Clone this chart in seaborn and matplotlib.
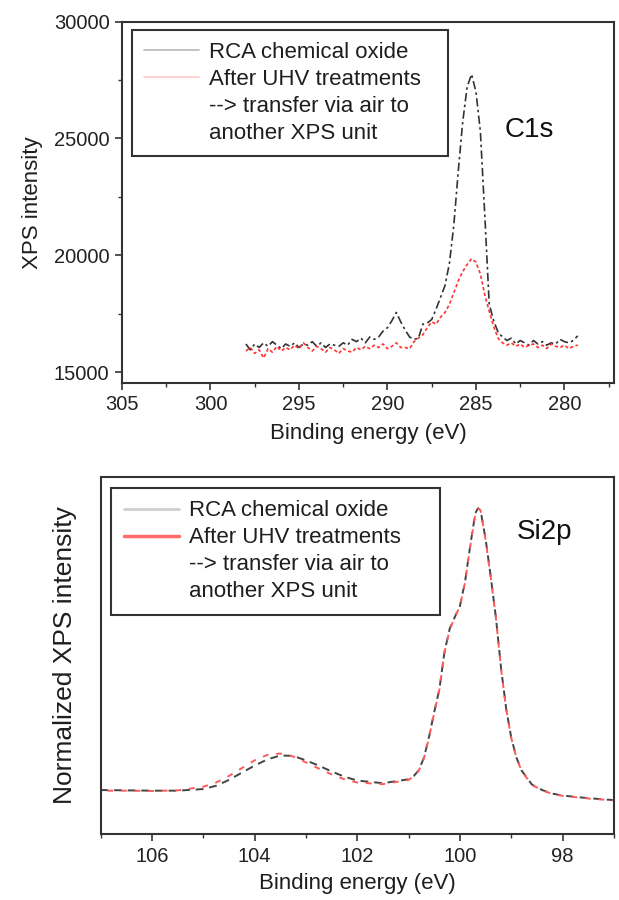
import numpy as np
import pandas as pd
import matplotlib
matplotlib.use("Agg")
import matplotlib.pyplot as plt
from matplotlib.lines import Line2D
from matplotlib.ticker import MultipleLocator
import seaborn as sns

# ---- C1s spectrum (binding energy in eV, intensity in counts) ----
c1s_energy = [298.0, 297.75, 297.5, 297.25, 297.0, 296.75, 296.5, 296.25, 296.0, 295.75,
              295.5, 295.25, 295.0, 294.75, 294.5, 294.25, 294.0, 293.75, 293.5, 293.25,
              293.0, 292.75, 292.5, 292.25, 292.0, 291.75, 291.5, 291.25, 291.0, 290.75,
              290.5, 290.25, 290.0, 289.75, 289.5, 289.25, 289.0, 288.75, 288.5, 288.25,
              288.0, 287.75, 287.5, 287.25, 287.0, 286.75, 286.5, 286.25, 286.0, 285.75,
              285.5, 285.25, 285.0, 284.75, 284.5, 284.25, 284.0, 283.75, 283.5, 283.25,
              283.0, 282.75, 282.5, 282.25, 282.0, 281.75, 281.5, 281.25, 281.0, 280.75,
              280.5, 280.25, 280.0, 279.75, 279.5, 279.25]
c1s_rca = [16200, 15950, 16200, 16050, 16250, 16100, 16300, 16150, 16000, 16200,
           16100, 16250, 16050, 16200, 16150, 16300, 16100, 16250, 16050, 16200,
           16150, 16100, 16250, 16150, 16400, 16300, 16450, 16250, 16500, 16400,
           16500, 16750, 16900, 17200, 17550, 17150, 16800, 16500, 16400, 16450,
           17050, 17100, 17250, 17700, 18200, 18700, 19650, 21300, 23600, 25700,
           27200, 27750, 27000, 25300, 21700, 17900, 17200, 16700, 16500, 16350,
           16450, 16200, 16350, 16250, 16150, 16350, 16200, 16300, 16150, 16250,
           16200, 16400, 16300, 16250, 16350, 16550]
c1s_uhv = [15900, 16050, 15800, 15950, 15600, 16000, 15850, 16100, 15900, 16050,
           15950, 16150, 16000, 16250, 16050, 15900, 16100, 16000, 15850, 16050,
           15950, 15800, 16000, 15900, 15850, 16050, 15950, 16100, 16000, 16150,
           16050, 16200, 16000, 16100, 16250, 16050, 16050, 16000, 16300, 16450,
           16600, 16900, 17150, 17050, 17350, 17550, 17900, 18400, 18900, 19300,
           19600, 19850, 19700, 19200, 18300, 17600, 16950, 16450, 16250, 16150,
           16250, 16100, 16200, 16050, 16150, 16200, 16050, 16150, 16000, 16200,
           16100, 16050, 16150, 16000, 16100, 16150]

# ---- Si2p spectrum (normalized intensity, peak = 1) ----
si2p_energy = [107.0, 106.5, 106.0, 105.5, 105.0, 104.75, 104.5, 104.25, 104.0, 103.75,
               103.5, 103.25, 103.0, 102.75, 102.5, 102.25, 102.0, 101.5, 101.0, 100.9,
               100.8, 100.7, 100.6, 100.5, 100.4, 100.3, 100.2, 100.1, 100.0, 99.9,
               99.8, 99.7, 99.65, 99.6, 99.5, 99.4, 99.3, 99.2, 99.1, 99.0,
               98.9, 98.8, 98.6, 98.4, 98.2, 98.0, 97.5, 97.0]
si2p_rca = [0.135, 0.134, 0.133, 0.133, 0.138, 0.148, 0.166, 0.188, 0.210, 0.229,
            0.241, 0.240, 0.226, 0.210, 0.192, 0.176, 0.164, 0.156, 0.168, 0.178,
            0.196, 0.235, 0.300, 0.375, 0.445, 0.560, 0.630, 0.666, 0.700, 0.775,
            0.885, 0.985, 1.000, 0.995, 0.905, 0.790, 0.665, 0.510, 0.385, 0.295,
            0.235, 0.195, 0.152, 0.135, 0.124, 0.118, 0.110, 0.104]
si2p_uhv = [0.133, 0.133, 0.132, 0.134, 0.145, 0.158, 0.178, 0.202, 0.226, 0.243,
            0.247, 0.238, 0.220, 0.201, 0.183, 0.168, 0.158, 0.153, 0.166, 0.177,
            0.195, 0.233, 0.298, 0.373, 0.443, 0.558, 0.628, 0.665, 0.700, 0.773,
            0.883, 0.984, 0.999, 0.994, 0.903, 0.788, 0.664, 0.508, 0.384, 0.294,
            0.234, 0.194, 0.151, 0.134, 0.123, 0.117, 0.109, 0.103]

legend_labels = ["RCA chemical oxide", "After UHV treatments",
                 "--> transfer via air to", "another XPS unit"]

c1s = pd.DataFrame({"energy": c1s_energy, "rca": c1s_rca, "uhv": c1s_uhv})
si2p = pd.DataFrame({"energy": si2p_energy, "rca": si2p_rca, "uhv": si2p_uhv})

sns.set_style("ticks")
plt.rcParams["font.family"] = ["Liberation Sans", "DejaVu Sans"]
plt.rcParams["text.color"] = "#1e1e1e"
plt.rcParams["axes.labelcolor"] = "#1e1e1e"
plt.rcParams["xtick.color"] = "#333333"
plt.rcParams["ytick.color"] = "#333333"
plt.rcParams["xtick.labelcolor"] = "#222222"
plt.rcParams["ytick.labelcolor"] = "#222222"

fig = plt.figure(figsize=(6.19, 9.0), dpi=100)
ax1 = fig.add_axes([122 / 619, 1 - 383 / 900, 492 / 619, 361.3 / 900])
ax2 = fig.add_axes([100.5 / 619, 1 - 834 / 900, 513.5 / 619, 357 / 900])

black = "#333333"
red = "#ff3333"

# top panel: C1s
sns.lineplot(data=c1s, x="energy", y="rca", ax=ax1, color=black, lw=1.2,
             linestyle=(0, (5, 2, 1.5, 2)), sort=False)
sns.lineplot(data=c1s, x="energy", y="uhv", ax=ax1, color=red, lw=1.2,
             linestyle=(0, (2, 1.5)), sort=False)
ax1.set_xlim(305, 277.2)
ax1.set_ylim(14530, 30000)
ax1.xaxis.set_major_locator(MultipleLocator(5))
ax1.xaxis.set_minor_locator(MultipleLocator(2.5))
ax1.yaxis.set_major_locator(MultipleLocator(5000))
ax1.yaxis.set_minor_locator(MultipleLocator(2500))
ax1.set_xlabel("Binding energy (eV)", fontsize=16)
ax1.set_ylabel("XPS intensity", fontsize=16)
ax1.xaxis.set_label_coords(0.5, -0.11)
ax1.yaxis.set_label_coords(-0.16, 0.5)
ax1.text(0.778, 0.70, "C1s", transform=ax1.transAxes, fontsize=20,
         va="center", ha="left", color="#111111")

# bottom panel: Si2p
sns.lineplot(data=si2p, x="energy", y="rca", ax=ax2, color="#444444", lw=1.4,
             linestyle=(0, (4, 3)), sort=False)
sns.lineplot(data=si2p, x="energy", y="uhv", ax=ax2, color="#ff5a5a", lw=1.4,
             linestyle=(3.5, (3, 4)), sort=False)
ax2.set_xlim(107, 97)
ax2.set_ylim(0, 1.096)
ax2.xaxis.set_major_locator(MultipleLocator(2))
ax2.xaxis.set_minor_locator(MultipleLocator(1))
ax2.set_yticks([])
ax2.set_xlabel("Binding energy (eV)", fontsize=16)
ax2.set_ylabel("Normalized XPS intensity", fontsize=19)
ax2.xaxis.set_label_coords(0.5, -0.11)
ax2.yaxis.set_label_coords(-0.045, 0.5)
ax2.text(0.811, 0.846, "Si2p", transform=ax2.transAxes, fontsize=20,
         va="center", ha="left", color="#111111")

for ax in (ax1, ax2):
    for sp in ax.spines.values():
        sp.set_visible(True)
        sp.set_color("#333333")
        sp.set_linewidth(1.5)
    ax.tick_params(axis="both", which="major", direction="out", length=5,
                   width=1.2, labelsize=14.5, pad=4)
    ax.tick_params(axis="both", which="minor", direction="out", length=3, width=1.0)

# legends
top_handles = [Line2D([], [], color="#b8b8b8", lw=1.2),
               Line2D([], [], color="#ffc8c8", lw=1.2),
               Line2D([], [], color="none"),
               Line2D([], [], color="none")]
bot_handles = [Line2D([], [], color="#cfcfcf", lw=2.0),
               Line2D([], [], color="#ff6a6a", lw=2.5),
               Line2D([], [], color="none"),
               Line2D([], [], color="none")]

for ax, handles, anchor in ((ax1, top_handles, (0.0197, 0.977, 0.643, 0)),
                            (ax2, bot_handles, (0.021, 0.969, 0.641, 0))):
    leg = ax.legend(handles, legend_labels, loc="upper left", bbox_to_anchor=anchor,
                    mode="expand", borderaxespad=0, fontsize=16, frameon=True,
                    fancybox=False, handlelength=2.5, handletextpad=0.45,
                    borderpad=0.55, labelspacing=0.27)
    frame = leg.get_frame()
    frame.set_edgecolor("#333333")
    frame.set_linewidth(1.5)
    frame.set_alpha(1)

fig.savefig("out.png", dpi=100)
